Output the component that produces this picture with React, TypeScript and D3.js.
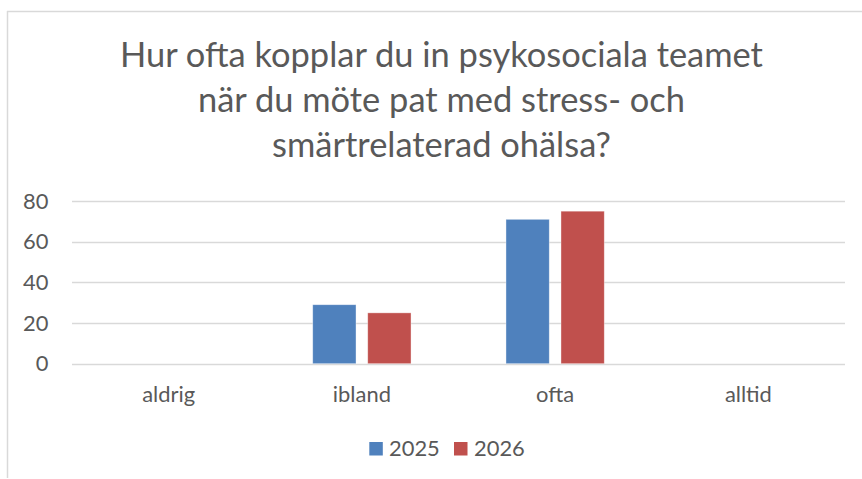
import React, { useEffect, useRef } from "react";
import * as d3 from "d3";

const categories = ["aldrig", "ibland", "ofta", "alltid"];
const seriesNames = ["2025", "2026"];
const values2025 = [0, 29, 71, 0];
const values2026 = [0, 25, 75, 0];
const yTicks = [0, 20, 40, 60, 80];
const titleLines = [
  "Hur ofta kopplar du in psykosociala teamet",
  "när du möte pat med stress- och",
  "smärtrelaterad ohälsa?",
];
const colors = ["#4F81BD", "#C0504D"];

const W = 862;
const H = 479;
const FONT = "Lato, 'Open Sans', sans-serif";
const TEXT = "#595959";

export default function App() {
  const ref = useRef<SVGSVGElement>(null);

  useEffect(() => {
    const svg = d3.select(ref.current);
    svg.selectAll("*").remove();

    const fitSize = (text: string, width: number) => {
      const t = svg.append("text").attr("font-family", FONT).attr("font-size", 100).text(text);
      const w = (t.node() as SVGTextElement).getComputedTextLength();
      t.remove();
      return (100 * width) / w;
    };

    // frame
    svg.append("rect").attr("x", 0).attr("y", 0).attr("width", W).attr("height", H).attr("fill", "#fff");
    svg.append("line").attr("x1", 7.5).attr("x2", 7.5).attr("y1", 11).attr("y2", 478)
      .attr("stroke", "#d9d9d9").attr("stroke-width", 1.5);
    svg.append("line").attr("x1", 7).attr("x2", W).attr("y1", 11.5).attr("y2", 11.5)
      .attr("stroke", "#d9d9d9").attr("stroke-width", 1.3);

    // title
    const titleSize = fitSize(titleLines[0], 643);
    titleLines.forEach((line, i) => {
      svg.append("text")
        .attr("x", 441.5).attr("y", 66.7 + i * 45)
        .attr("text-anchor", "middle")
        .attr("font-family", FONT).attr("font-size", titleSize)
        .attr("fill", TEXT).text(line);
    });

    const y = d3.scaleLinear().domain([0, 80]).range([363.7, 201]);
    const x0 = d3.scaleBand<string>().domain(categories).range([72, 845]).paddingInner(0).paddingOuter(0);
    const bw = x0.bandwidth();
    const groupW = 98.3;
    const x1 = d3.scaleBand<string>().domain(seriesNames)
      .range([(bw - groupW) / 2, (bw + groupW) / 2]).paddingInner(0.213).paddingOuter(0);

    // gridlines
    svg.append("g").selectAll("line").data(yTicks).join("line")
      .attr("x1", 72).attr("x2", 845)
      .attr("y1", (d) => Math.round(y(d)) + 0.5).attr("y2", (d) => Math.round(y(d)) + 0.5)
      .attr("stroke", "#d9d9d9").attr("stroke-width", 1.4);

    const labelSize = fitSize("aldrig", 53);

    // y tick labels
    svg.append("g").selectAll("text").data(yTicks).join("text")
      .attr("x", 48.5).attr("y", (d) => y(d))
      .attr("dy", "0.35em")
      .attr("text-anchor", "end")
      .attr("font-family", FONT).attr("font-size", labelSize)
      .attr("fill", TEXT).text((d) => String(d));

    // category labels
    svg.append("g").selectAll("text").data(categories).join("text")
      .attr("x", (d) => (x0(d) as number) + bw / 2).attr("y", 402)
      .attr("text-anchor", "middle")
      .attr("font-family", FONT).attr("font-size", labelSize)
      .attr("fill", TEXT).text((d) => d);

    // bars
    const allSeries = [values2025, values2026];
    allSeries.forEach((vals, si) => {
      svg.append("g").selectAll("rect").data(categories).join("rect")
        .attr("x", (c) => (x0(c) as number) + (x1(seriesNames[si]) as number))
        .attr("width", x1.bandwidth())
        .attr("y", (_c, i) => y(vals[i]))
        .attr("height", (_c, i) => y(0) - y(vals[i]))
        .attr("fill", colors[si])
        .attr("stroke", "#ffffff").attr("stroke-opacity", 0.5).attr("stroke-width", 0.75);
    });

    // legend
    const legendItems = [
      { sq: 369.3, tx: 389 },
      { sq: 454, tx: 474 },
    ];
    seriesNames.forEach((name, i) => {
      svg.append("rect").attr("x", legendItems[i].sq).attr("y", 442)
        .attr("width", 13.5).attr("height", 13.5).attr("fill", colors[i]);
      svg.append("text").attr("x", legendItems[i].tx).attr("y", 456)
        .attr("font-family", FONT).attr("font-size", labelSize)
        .attr("fill", TEXT).text(name);
    });
  }, []);

  return (
    <div style={{ position: "fixed", left: 0, top: 0, width: W, height: H }}>
      <svg ref={ref} width={W} height={H} style={{ display: "block" }} />
    </div>
  );
}
